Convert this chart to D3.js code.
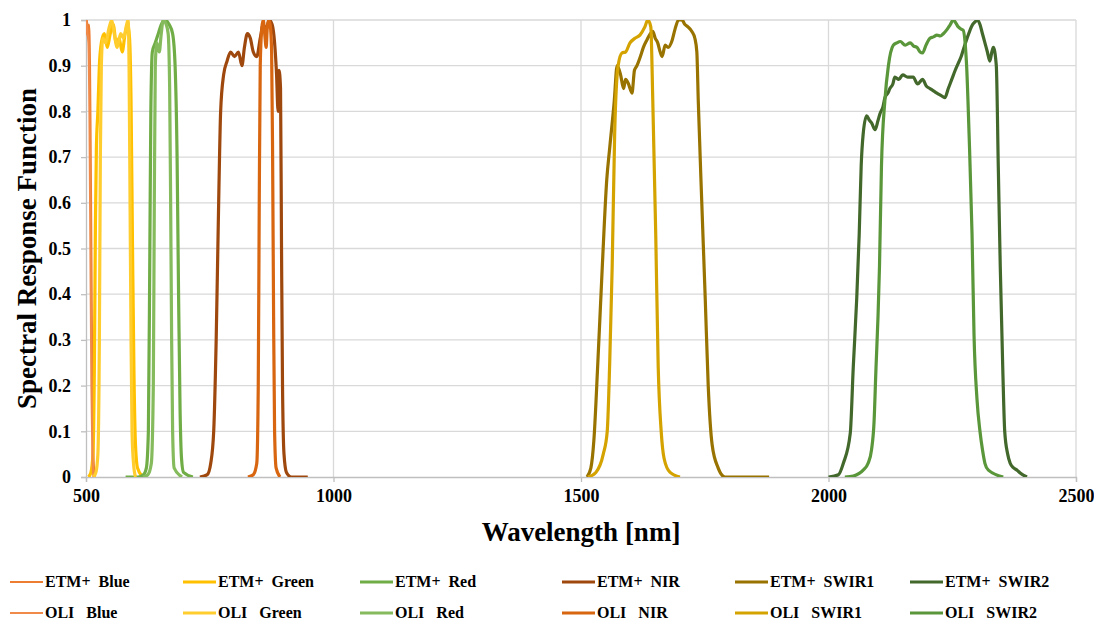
<!DOCTYPE html>
<html>
<head>
<meta charset="utf-8">
<script src="https://cdn.jsdelivr.net/npm/d3@7"></script>
<style>
  body { margin: 0; background: #fff; }
  text { font-family: "Liberation Serif", "Times New Roman", serif; font-weight: bold; fill: #000; }
</style>
</head>
<body>
<svg id="chart" width="1094" height="621"></svg>
<script>
// band names in legend order (Excel lays the legend row by row)
const bands = ["Blue", "Green", "Red", "NIR", "SWIR1", "SWIR2"];
const xTicks = [500, 1000, 1500, 2000, 2500];
const yTicks = [0, 0.1, 0.2, 0.3, 0.4, 0.5, 0.6, 0.7, 0.8, 0.9, 1];

// [wavelength nm, response]
const etmBlue = [[495,1],[500,0.97],[502,1],[504,0.96],[506,0.99],[508,0.9],[510,0.62],[512,0.3],[514,0.1],[516,0.02],[518,0]];
const oliBlue = [[495,0.98],[500,1],[503,0.97],[505,0.95],[507,0.8],[509,0.5],[511,0.2],[513,0.05],[515,0]];
const etmGreen = [[505,0],[510,0.01],[514,0.05],[517,0.25],[519,0.55],[521,0.72],[524,0.8],[527,0.9],[531,0.95],[537,0.97],[543,0.94],[549,0.97],[555,0.99],[561,0.95],[567,0.96],[573,0.93],[579,0.97],[584,0.99],[588,0.96],[591,0.82],[594,0.5],[597,0.22],[600,0.07],[604,0.02],[615,0]];
const oliGreen = [[515,0],[520,0.01],[524,0.05],[527,0.3],[529,0.7],[531,0.9],[534,0.96],[540,0.95],[546,0.98],[552,1],[557,0.97],[563,0.94],[570,0.97],[576,0.96],[582,0.99],[585,1],[587,0.9],[589,0.6],[591,0.3],[593,0.1],[596,0.03],[600,0]];
const etmRed = [[580,0],[605,0],[616,0.005],[622,0.02],[626,0.1],[629,0.5],[631,0.8],[634,0.93],[640,0.95],[646,0.97],[652,0.99],[660,1],[668,0.99],[675,0.97],[680,0.9],[684,0.7],[687,0.4],[690,0.15],[693,0.04],[697,0.01],[716,0]];
const oliRed = [[615,0],[625,0.005],[632,0.03],[636,0.2],[638,0.6],[640,0.9],[643,0.95],[648,0.93],[652,0.97],[656,1],[662,0.99],[666,0.97],[669,0.85],[671,0.6],[673,0.3],[675,0.1],[678,0.02],[694,0]];
const etmNir = [[730,0],[745,0.005],[752,0.03],[758,0.1],[763,0.3],[768,0.6],[772,0.8],[778,0.88],[785,0.91],[792,0.93],[800,0.92],[808,0.93],[815,0.9],[820,0.94],[826,0.97],[832,0.96],[838,0.93],[845,0.92],[852,0.96],[858,0.99],[864,0.98],[870,1],[876,0.99],[881,0.95],[885,0.88],[888,0.8],[890,0.89],[893,0.85],[895,0.5],[897,0.2],[900,0.05],[905,0.01],[915,0],[948,0]];
const oliNir = [[827,0],[838,0.005],[845,0.03],[848,0.2],[850,0.6],[852,0.9],[855,0.98],[858,1],[861,0.97],[864,0.94],[866,0.98],[869,1],[872,0.99],[875,0.93],[877,0.7],[879,0.35],[881,0.1],[884,0.02],[892,0]];
const etmSwir1 = [[1512,0],[1520,0.02],[1526,0.08],[1534,0.25],[1543,0.46],[1552,0.65],[1558,0.72],[1567,0.82],[1573,0.9],[1580,0.88],[1586,0.85],[1590,0.87],[1596,0.86],[1603,0.84],[1608,0.89],[1613,0.9],[1620,0.92],[1626,0.94],[1633,0.956],[1640,0.97],[1645,0.975],[1650,0.96],[1655,0.95],[1660,0.93],[1664,0.92],[1670,0.945],[1676,0.94],[1684,0.955],[1690,0.98],[1697,1],[1704,1],[1710,0.99],[1716,0.985],[1724,0.975],[1730,0.96],[1734,0.93],[1737,0.82],[1744,0.6],[1751,0.39],[1757,0.2],[1765,0.07],[1777,0.02],[1791,0],[1880,0]];
const oliSwir1 = [[1514,0],[1530,0.01],[1545,0.05],[1553,0.1],[1558,0.25],[1563,0.46],[1568,0.75],[1575,0.9],[1583,0.928],[1590,0.93],[1599,0.95],[1609,0.96],[1619,0.967],[1629,0.985],[1635,1],[1641,0.985],[1645,0.825],[1651,0.53],[1656,0.24],[1662,0.1],[1668,0.04],[1680,0.01],[1700,0]];
const etmSwir2 = [[2000,0],[2020,0.005],[2030,0.03],[2044,0.096],[2050,0.24],[2057,0.39],[2062,0.53],[2066,0.68],[2070,0.75],[2077,0.79],[2083,0.78],[2087,0.775],[2094,0.76],[2100,0.78],[2104,0.795],[2110,0.81],[2114,0.83],[2120,0.84],[2124,0.85],[2130,0.86],[2134,0.875],[2142,0.87],[2150,0.88],[2160,0.875],[2171,0.875],[2180,0.86],[2190,0.87],[2198,0.855],[2205,0.85],[2212,0.845],[2219,0.84],[2227,0.835],[2235,0.83],[2242,0.85],[2249,0.87],[2256,0.89],[2262,0.905],[2268,0.92],[2272,0.934],[2280,0.96],[2286,0.978],[2291,0.99],[2296,0.996],[2301,1],[2306,0.99],[2311,0.97],[2316,0.95],[2321,0.93],[2326,0.91],[2330,0.93],[2333,0.94],[2339,0.9],[2343,0.68],[2347,0.46],[2352,0.24],[2356,0.1],[2362,0.05],[2367,0.03],[2374,0.02],[2381,0.015],[2388,0.008],[2401,0]];
const oliSwir2 = [[2033,0],[2050,0.002],[2062,0.008],[2070,0.015],[2080,0.03],[2087,0.06],[2092,0.12],[2096,0.24],[2100,0.35],[2103,0.46],[2107,0.68],[2114,0.825],[2121,0.9],[2131,0.945],[2138,0.95],[2145,0.953],[2155,0.945],[2165,0.95],[2172,0.943],[2179,0.94],[2185,0.93],[2190,0.928],[2197,0.945],[2205,0.96],[2212,0.963],[2219,0.967],[2226,0.965],[2232,0.97],[2240,0.98],[2246,0.99],[2252,1],[2258,0.992],[2262,0.985],[2268,0.98],[2272,0.978],[2276,0.95],[2279,0.9],[2284,0.75],[2290,0.53],[2294,0.31],[2300,0.17],[2306,0.1],[2311,0.06],[2316,0.03],[2323,0.015],[2353,0]];

const etmColors = ["#ed7d31", "#ffc000", "#70ad47", "#9e480e", "#997300", "#43682b"];
const oliColors = ["#f08a4b", "#ffcd2e", "#85bb5c", "#d8650f", "#d4a300", "#5a963a"];
const etmSeries = [etmBlue, etmGreen, etmRed, etmNir, etmSwir1, etmSwir2];
const oliSeries = [oliBlue, oliGreen, oliRed, oliNir, oliSwir1, oliSwir2];

const margin = {left: 86, right: 1076, top: 20, bottom: 477};
const svg = d3.select("#chart");

const x = d3.scaleLinear([500, 2500], [margin.left, margin.right]);
const y = d3.scaleLinear([0, 1], [margin.bottom, margin.top]);

// gridlines
svg.append("g").selectAll("line")
    .data(yTicks.slice(1))
    .join("line")
    .attr("x1", margin.left).attr("x2", margin.right)
    .attr("y1", d => y(d)).attr("y2", d => y(d))
    .attr("stroke", "#d9d9d9").attr("stroke-width", 1.3);
svg.append("g").selectAll("line")
    .data(xTicks.slice(1))
    .join("line")
    .attr("x1", d => x(d)).attr("x2", d => x(d))
    .attr("y1", margin.top).attr("y2", margin.bottom)
    .attr("stroke", "#d9d9d9").attr("stroke-width", 1.3);

// axes
const xAxis = svg.append("g")
    .attr("transform", `translate(0,${margin.bottom})`)
    .call(d3.axisBottom(x).tickValues(xTicks).tickSize(5).tickPadding(7).tickFormat(d3.format("d")));
const yAxis = svg.append("g")
    .attr("transform", `translate(${margin.left},0)`)
    .call(d3.axisLeft(y).tickValues(yTicks).tickSize(5).tickPadding(10).tickFormat(d => d3.format("")(d)));
for (const ax of [xAxis, yAxis]) {
    ax.select(".domain").attr("stroke", "#bfbfbf").attr("stroke-width", 1.3);
    ax.selectAll(".tick line").attr("stroke", "#bfbfbf").attr("stroke-width", 1.3);
    ax.selectAll(".tick text")
        .attr("fill", "#000")
        .style("font-family", '"Liberation Serif", serif')
        .style("font-weight", "bold")
        .style("font-size", "18px");
}

// curves, clipped to the plot area
svg.append("clipPath").attr("id", "plot")
    .append("rect")
    .attr("x", margin.left).attr("y", margin.top)
    .attr("width", margin.right - margin.left)
    .attr("height", margin.bottom - margin.top);

const line = d3.line()
    .x(d => x(d[0]))
    .y(d => y(d[1]))
    .curve(d3.curveMonotoneX);

const curves = svg.append("g").attr("clip-path", "url(#plot)");
function drawSeries(series, colors) {
    series.forEach((s, i) => {
        curves.append("path")
            .datum(s)
            .attr("d", line)
            .attr("fill", "none")
            .attr("stroke", colors[i])
            .attr("stroke-width", i === 0 ? 2.2 : 3.2)
            .attr("stroke-linejoin", "round");
    });
}
drawSeries(etmSeries, etmColors);
drawSeries(oliSeries, oliColors);

// titles
svg.append("text")
    .attr("x", (margin.left + margin.right) / 2)
    .attr("y", 541)
    .attr("text-anchor", "middle")
    .style("font-size", "27px")
    .text("Wavelength [nm]");
svg.append("text")
    .attr("transform", `translate(36,${(margin.top + margin.bottom) / 2}) rotate(-90)`)
    .attr("text-anchor", "middle")
    .style("font-size", "27px")
    .text("Spectral Response Function");

// legend: row 1 ETM+, row 2 OLI
const legendX = [10, 183, 360, 562, 735, 910];
const legendY = [582, 613];
const rows = [
    {prefix: "ETM+  ", colors: etmColors},
    {prefix: "OLI   ", colors: oliColors}
];
rows.forEach((row, r) => {
    const g = svg.append("g");
    bands.forEach((b, i) => {
        g.append("line")
            .attr("x1", legendX[i]).attr("x2", legendX[i] + 33)
            .attr("y1", legendY[r]).attr("y2", legendY[r])
            .attr("stroke", row.colors[i])
            .attr("stroke-width", i === 0 ? 2.2 : 3);
        g.append("text")
            .attr("x", legendX[i] + 35)
            .attr("y", legendY[r] + 5)
            .style("font-size", "16px")
            .style("white-space", "pre")
            .attr("xml:space", "preserve")
            .text(row.prefix + b);
    });
});
</script>
</body>
</html>
